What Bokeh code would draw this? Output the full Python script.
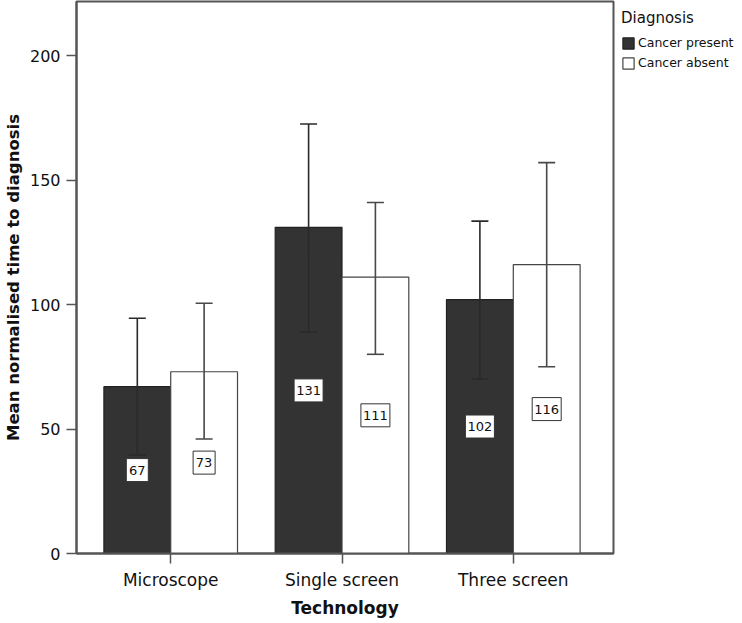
from bokeh.plotting import figure
from bokeh.models import (Range1d, FixedTicker, Whisker, TeeHead, ColumnDataSource,
                          Legend, LegendItem)
from bokeh.core.properties import value
from bokeh.embed import file_html
from bokeh.resources import INLINE

# ---- data ----
categories = ["Microscope", "Single screen", "Three screen"]
series_names = ["Cancer present", "Cancer absent"]
legend_title = "Diagnosis"
present_mean = [67, 131, 102]
present_low = [39.5, 89, 70]
present_high = [94.5, 172.5, 133.5]
absent_mean = [73, 111, 116]
absent_low = [46, 80, 75]
absent_high = [100.5, 141, 157]
y_ticks = [0, 50, 100, 150, 200]

FONT = "DejaVu Sans"
DARK = "#333333"

p = figure(frame_width=537, frame_height=552, output_backend="svg", toolbar_location=None,
           x_range=Range1d(-0.55, 2.585), y_range=Range1d(0, 221.7),
           min_border_left=60, min_border_right=119, min_border_top=1,
           min_border_bottom=40)
p.grid.visible = False
p.outline_line_color = "#555555"
p.outline_line_width = 2
p.background_fill_color = "white"
p.border_fill_color = "white"

xs = list(range(len(categories)))
bw = 0.39
x_present = [x - bw / 2 for x in xs]
x_absent = [x + bw / 2 for x in xs]

src_p = ColumnDataSource(dict(x=x_present, top=present_mean, low=present_low, high=present_high,
                              ymid=[v / 2 for v in present_mean],
                              lab=[str(v) for v in present_mean],
                              w=[8 + 7 * len(str(v)) for v in present_mean]))
src_a = ColumnDataSource(dict(x=x_absent, top=absent_mean, low=absent_low, high=absent_high,
                              ymid=[v / 2 for v in absent_mean],
                              lab=[str(v) for v in absent_mean],
                              w=[8 + 7 * len(str(v)) for v in absent_mean]))

r1 = p.vbar(x="x", top="top", width=bw, source=src_p, fill_color=DARK,
            line_color="#222222", line_width=1.2)
r2 = p.vbar(x="x", top="top", width=bw, source=src_a, fill_color="white",
            line_color="#444444", line_width=1.2)

for src, wcol in ((src_p, "#2a2a2a"), (src_a, "#484848")):
    wh = Whisker(base="x", lower="low", upper="high", source=src, level="annotation",
                 line_color=wcol, line_width=1.6,
                 upper_head=TeeHead(size=17, line_color=wcol, line_width=1.6),
                 lower_head=TeeHead(size=17, line_color=wcol, line_width=1.6))
    p.add_layout(wh)
    p.rect(x="x", y="ymid", width="w", height=23, width_units="screen",
           height_units="screen", source=src, fill_color="white",
           line_color="#333333", line_width=1)
    p.text(x="x", y="ymid", text="lab", source=src, text_align="center",
           text_baseline="middle", text_font_size="13px", text_color="#111111",
           text_font=value(FONT))

# axes
p.xaxis.ticker = FixedTicker(ticks=xs)
p.xaxis.major_label_overrides = {i: c for i, c in enumerate(categories)}
p.xaxis.axis_label = "Technology"
p.yaxis.ticker = FixedTicker(ticks=y_ticks)
p.yaxis.axis_label = "Mean normalised time to diagnosis"
for ax in (p.xaxis[0], p.yaxis[0]):
    ax.minor_tick_line_color = None
    ax.major_tick_in = 0
    ax.major_tick_out = 10
    ax.axis_line_color = "#555555"
    ax.axis_line_width = 2
    ax.major_tick_line_color = "#555555"
    ax.major_tick_line_width = 1.5
    ax.major_label_text_font = FONT
    ax.major_label_text_color = "#111111"
    ax.axis_label_text_font = FONT
    ax.axis_label_text_font_style = "bold"
    ax.axis_label_text_color = "#111111"
p.xaxis.axis_label_text_font_size = "17px"
p.yaxis.axis_label_text_font_size = "16.5px"
p.xaxis.major_label_text_font_size = "17px"
p.yaxis.major_label_text_font_size = "16px"
p.xaxis.major_label_standoff = 6
p.yaxis.major_label_standoff = 6
p.xaxis.axis_label_standoff = 5
p.yaxis.axis_label_standoff = 4

legend = Legend(items=[LegendItem(label=series_names[0], renderers=[r1]),
                       LegendItem(label=series_names[1], renderers=[r2])],
                title=legend_title, location="top_left", orientation="vertical")
legend.title_text_font = FONT
legend.title_text_font_size = "15px"
legend.title_text_font_style = "normal"
legend.title_text_color = "#111111"
legend.title_standoff = 8
legend.label_text_font = FONT
legend.label_text_font_size = "12.5px"
legend.label_text_color = "#111111"
legend.glyph_width = 14
legend.glyph_height = 14
legend.label_height = 14
legend.spacing = 5
legend.label_standoff = 3
legend.padding = 4
legend.margin = 8
legend.border_line_color = None
legend.background_fill_alpha = 0
p.add_layout(legend, "right")

open("out.html", "w").write(file_html(p, INLINE))
